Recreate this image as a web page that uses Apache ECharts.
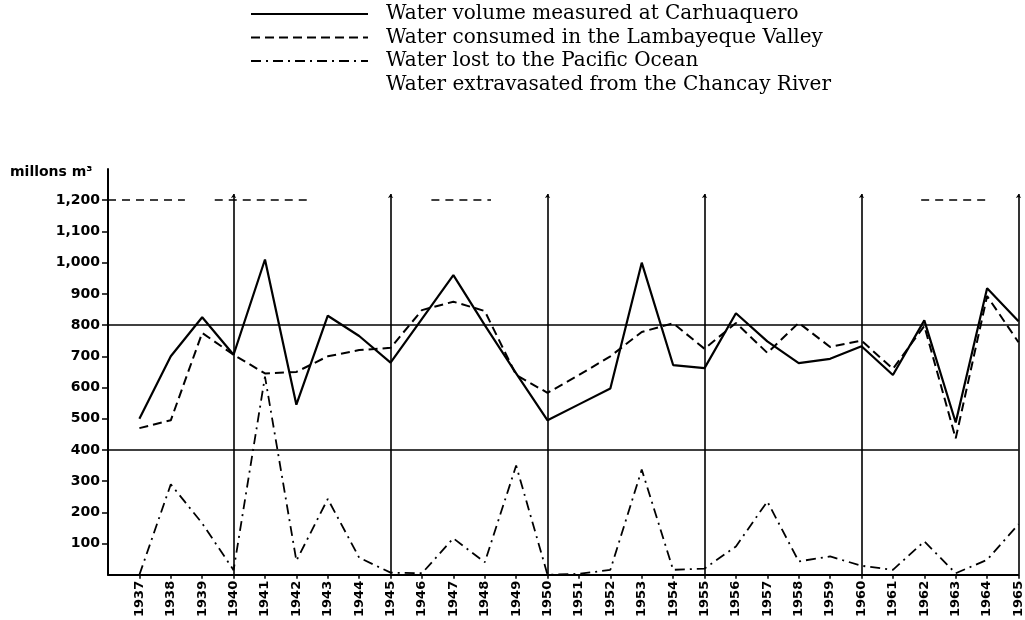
<!DOCTYPE html>
<html>
<head>
<meta charset="utf-8">
<script src="https://cdn.jsdelivr.net/npm/echarts@6/dist/echarts.min.js"></script>
<style>
  html, body { margin: 0; background: #fff; }
  #chart { width: 1025px; height: 620px; }
</style>
</head>
<body>
<div id="chart"></div>
<script>
// years on the x axis
const years = [1937, 1938, 1939, 1940, 1941, 1942, 1943, 1944, 1945, 1946,
  1947, 1948, 1949, 1950, 1951, 1952, 1953, 1954, 1955, 1956,
  1957, 1958, 1959, 1960, 1961, 1962, 1963, 1964, 1965];
// millons m3
const measured = [500, 700, 825, 705, 1010, 545, 830, 765, 680, 820,
  960, 800, 645, 495, 546, 597, 1000, 672, 662, 838,
  748, 678, 692, 732, 640, 815, 488, 918, 812];
const consumed = [470, 495, 775, 705, 645, 650, 700, 720, 727, 848,
  875, 845, 640, 583, 640, 700, 778, 806, 724, 807,
  711, 807, 730, 750, 660, 797, 437, 893, 745];
const lost = [0, 290, 165, 15, 635, 45, 243, 55, 7, 5,
  117, 40, 350, 0, 3, 16, 337, 16, 20, 91,
  235, 43, 59, 29, 16, 107, 5, 48, 162];
const yTicks = [100, 200, 300, 400, 500, 600, 700, 800, 900, 1000, 1100, 1200];
const vLines = [1940, 1945, 1950, 1955, 1960, 1965];
const hLines = [400, 800];
// stray dashed pieces along the 1,200 line
const topDashes = [[1936, 1938.45], [1939.4, 1942.4], [1946.3, 1948.2], [1961.9, 1964]];

const names = [
  "Water volume measured at Carhuaquero",
  "Water consumed in the Lambayeque Valley",
  "Water lost to the Pacific Ocean",
  "Water extravasated from the Chancay River"
];

function pairs(vals) {
  return years.map((y, i) => [y, vals[i]]);
}

var myChart = echarts.init(document.getElementById("chart"));

var option = {
  animation: false,
  backgroundColor: "#fff",
  grid: { left: 108, right: 5, top: 169, bottom: 45 },
  legend: {
    orient: "vertical",
    left: 250,
    top: 4,
    padding: 0,
    itemWidth: 117,
    itemHeight: 14,
    itemGap: 3.5,
    selectedMode: false,
    data: names,
    // hide the circle that line series put in the legend icon
    itemStyle: { color: "transparent", opacity: 0, borderWidth: 0 },
    textStyle: {
      fontFamily: "DejaVu Serif",
      fontSize: 20,
      color: "#000",
      padding: [0, 0, 0, 13]
    }
  },
  graphic: [
    {
      type: "text",
      left: 10,
      top: 165,
      style: { text: "millons m³", font: "bold 14px 'DejaVu Sans'", fill: "#000" }
    }
  ],
  xAxis: {
    type: "value",
    min: 1936,
    max: 1965,
    interval: 1,
    splitLine: { show: false },
    axisLine: { lineStyle: { color: "#000", width: 2 } },
    axisTick: { customValues: years, length: 4, lineStyle: { color: "#000", width: 1.5 } },
    axisLabel: {
      customValues: years,
      rotate: 90,
      margin: 6,
      formatter: (v) => String(v),
      fontFamily: "DejaVu Sans",
      fontWeight: "bold",
      fontSize: 13,
      color: "#000"
    }
  },
  yAxis: {
    type: "value",
    min: 0,
    max: 1300,
    interval: 100,
    splitLine: { show: false },
    axisLine: { show: true, lineStyle: { color: "#000", width: 2 } },
    axisTick: { customValues: yTicks, length: 6, lineStyle: { color: "#000", width: 1.5 } },
    axisLabel: {
      customValues: yTicks,
      margin: 8,
      formatter: (v) => v.toLocaleString("en-US"),
      fontFamily: "DejaVu Sans",
      fontWeight: "bold",
      fontSize: 14,
      color: "#000"
    }
  },
  series: [
    {
      name: names[0],
      type: "line",
      symbol: "none",
      data: pairs(measured),
      lineStyle: { color: "#000", width: 2.2 },
      itemStyle: { color: "#000" },
      markLine: {
        silent: true,
        symbol: "none",
        label: { show: false },
        lineStyle: { color: "#000", width: 1.6, type: "solid" },
        data: hLines.map((v) => ({ yAxis: v })).concat(
          vLines.map((x) => [
            { coord: [x, 0], symbol: "none" },
            { coord: [x, 1220], symbol: "arrow", symbolSize: 4 }
          ])
        )
      }
    },
    {
      name: names[1],
      type: "line",
      symbol: "none",
      data: pairs(consumed),
      lineStyle: { color: "#000", width: 2, type: [9, 5] },
      itemStyle: { color: "#000" },
      markLine: {
        silent: true,
        symbol: "none",
        label: { show: false },
        lineStyle: { color: "#000", width: 1.5, type: [8, 6] },
        data: topDashes.map((d) => [{ coord: [d[0], 1200] }, { coord: [d[1], 1200] }])
      }
    },
    {
      name: names[2],
      type: "line",
      symbol: "none",
      data: pairs(lost),
      lineStyle: { color: "#000", width: 1.8, type: [10, 5, 2, 5] },
      itemStyle: { color: "#000" }
    },
    {
      name: names[3],
      type: "line",
      symbol: "none",
      data: [],
      lineStyle: { color: "#000", width: 0, opacity: 0 },
      itemStyle: { color: "#000", opacity: 0 }
    }
  ]
};

myChart.setOption(option);
</script>
</body>
</html>
